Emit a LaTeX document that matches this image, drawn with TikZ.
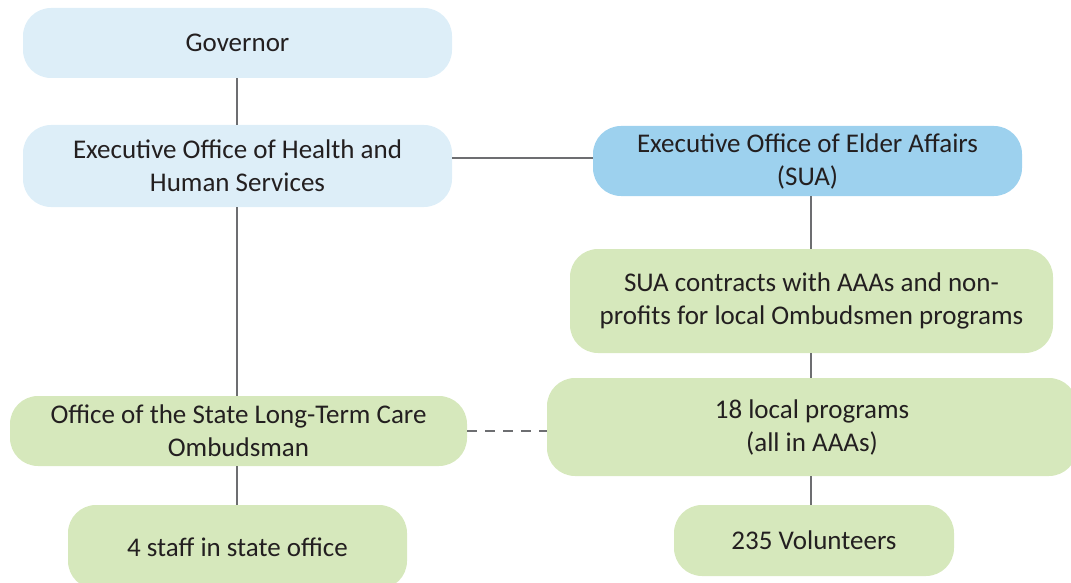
\documentclass[tikz,border=0pt]{standalone}
\usepackage{fontspec}
\setmainfont{Carlito}
\definecolor{lblue}{HTML}{DDEEF8}
\definecolor{mblue}{HTML}{9DD1EE}
\definecolor{lgreen}{HTML}{D6E8BC}
\definecolor{txt}{HTML}{231F20}
\definecolor{ln}{HTML}{6D6E71}
\tikzset{
  box/.style={rectangle, rounded corners=28pt, draw=none, text=txt, align=center,
    font=\fontsize{27}{33}\selectfont, inner sep=0pt},
  conn/.style={draw=ln, line width=2.6pt},
  dconn/.style={draw=ln, line width=2.6pt, dash pattern=on 10pt off 8pt}
}
\begin{document}
\begin{tikzpicture}[x=1pt,y=-1pt]
\useasboundingbox (0,0) rectangle (1071,583);
\node[box, fill=lblue, minimum width=429pt, minimum height=70pt] (gov) at (237.5,43) {Governor};
\node[box, fill=lblue, minimum width=429pt, minimum height=82pt] (eohhs) at (237.5,166) {Executive Office of Health and\\Human Services};
\node[box, fill=mblue, minimum width=429pt, minimum height=70pt] (eoea) at (807.5,161) {Executive Office of Elder Affairs\\(SUA)};
\node[box, fill=lgreen, minimum width=483pt, minimum height=104pt] (sua) at (811.5,301) {SUA contracts with AAAs and non-\\profits for local Ombudsmen programs};
\node[box, fill=lgreen, minimum width=457pt, minimum height=70pt] (ltc) at (238.5,431) {Office of the State Long-Term Care\\Ombudsman};
\node[box, fill=lgreen, minimum width=530pt, minimum height=98pt] (loc) at (812,427) {18 local programs\\(all in AAAs)};
\node[box, fill=lgreen, minimum width=339pt, minimum height=84pt] (staff) at (237.5,547) {4 staff in state office};
\node[box, fill=lgreen, minimum width=280pt, minimum height=71pt] (vol) at (814,540.5) {235 Volunteers};
\draw[conn] (gov.south -| 237,0) -- (eohhs.north -| 237,0);
\draw[conn] (eohhs.south -| 237,0) -- (ltc.north -| 237,0);
\draw[conn] (ltc.south -| 237,0) -- (staff.north -| 237,0);
\draw[conn] (eohhs.east |- 0,158) -- (eoea.west |- 0,158);
\draw[conn] (eoea.south -| 811,0) -- (sua.north -| 811,0);
\draw[conn] (sua.south -| 811,0) -- (loc.north -| 811,0);
\draw[conn] (loc.south -| 811,0) -- (vol.north -| 811,0);
\draw[dconn] (ltc.east) -- (loc.west |- ltc.east);
\end{tikzpicture}
\end{document}
